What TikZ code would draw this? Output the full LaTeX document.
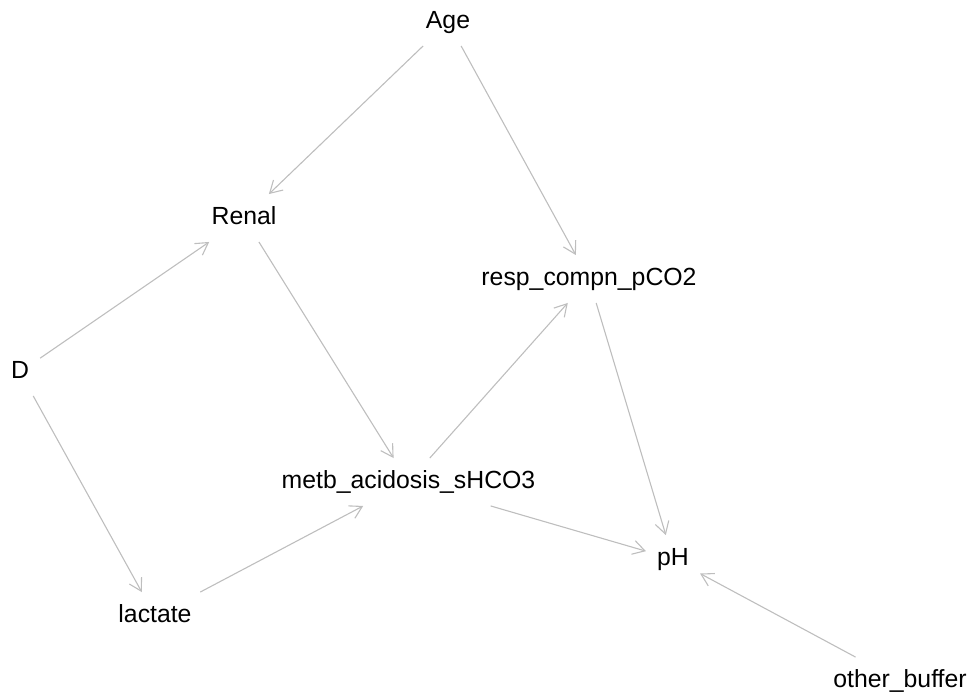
\documentclass[tikz,border=0pt]{standalone}
\usepackage{fontspec}
\setmainfont{Liberation Sans}
\usetikzlibrary{arrows.meta}
\definecolor{edgegray}{RGB}{190,190,190}
\tikzset{
  var/.style     = {font=\fontsize{24.8}{29}\selectfont,text height=17.5pt,text depth=5pt,
                    inner xsep=11pt,inner ysep=12.5pt},
  causearr/.style = {-{Straight Barb[length=12pt,width=14pt]},edgegray,line width=1.1pt}
}

\begin{document}
\begin{tikzpicture}[x=1pt,y=-1pt]
  \useasboundingbox (0,0) rectangle (972,691);
  % variables
  \node[var] (age)     at (448,22)  {Age};
  \node[var] (renal)   at (244,218) {Renal};
  \node[var] (resp)    at (589,279) {resp\_compn\_pCO2};
  \node[var] (D)       at (20,372)  {D};
  \node[var] (metb)    at (408.5,482) {metb\_acidosis\_sHCO3};
  \node[var] (pH)      at (673,559) {pH};
  \node[var] (lactate) at (155,616) {lactate};
  \node[var] (buffer)  at (900,681) {other\_buffer};
  % arcs
  \draw[causearr] (age)     -- (renal);
  \draw[causearr] (age)     -- (resp);
  \draw[causearr] (D)       -- (renal);
  \draw[causearr] (D)       -- (lactate);
  \draw[causearr] (renal)   -- (metb);
  \draw[causearr] (lactate) -- (metb);
  \draw[causearr] (metb)    -- (resp);
  \draw[causearr] (metb)    -- (pH);
  \draw[causearr] (resp)    -- (pH);
  \draw[causearr] (buffer)  -- (pH);
\end{tikzpicture}
\end{document}
